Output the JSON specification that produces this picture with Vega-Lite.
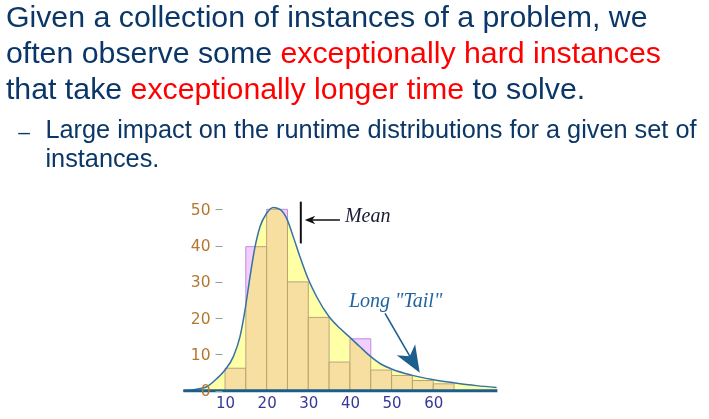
{
  "$schema": "https://vega.github.io/schema/vega-lite/v6.json",
  "width": 709,
  "height": 419,
  "padding": 0,
  "autosize": {"type": "fit", "contains": "padding"},
  "background": "white",
  "config": {"view": {"stroke": null}},
  "datasets": {
    "bins": [
      {"x": 10, "x2": 15, "y": 6.2},
      {"x": 15, "x2": 20, "y": 39.7},
      {"x": 20, "x2": 25, "y": 50},
      {"x": 25, "x2": 30, "y": 30},
      {"x": 30, "x2": 35, "y": 20.2},
      {"x": 35, "x2": 40, "y": 7.9},
      {"x": 40, "x2": 45, "y": 14.3},
      {"x": 45, "x2": 50, "y": 5.7},
      {"x": 50, "x2": 55, "y": 4.2},
      {"x": 55, "x2": 60, "y": 2.8},
      {"x": 60, "x2": 65, "y": 1.9}
    ],
    "curve": [
      {"x": 0, "y": 0}, {"x": 2, "y": 0.15}, {"x": 4, "y": 0.6}, {"x": 5.6, "y": 1.1},
      {"x": 8, "y": 3.3}, {"x": 10, "y": 5.7}, {"x": 12, "y": 9.4}, {"x": 13.6, "y": 14.9},
      {"x": 14.8, "y": 22.2}, {"x": 16, "y": 31.4}, {"x": 17.1, "y": 39}, {"x": 18.4, "y": 45.2},
      {"x": 20, "y": 48.9}, {"x": 21.6, "y": 50.5}, {"x": 23.2, "y": 50}, {"x": 24.8, "y": 47.5},
      {"x": 26.4, "y": 42.4}, {"x": 28, "y": 36.9}, {"x": 30, "y": 30.7}, {"x": 32, "y": 25.9},
      {"x": 35, "y": 20.4}, {"x": 37.6, "y": 17.2}, {"x": 40, "y": 14.7}, {"x": 42.4, "y": 12.1},
      {"x": 44.8, "y": 9.6}, {"x": 47.2, "y": 7.5}, {"x": 50, "y": 6.0}, {"x": 54.8, "y": 4.3},
      {"x": 59.8, "y": 3.1}, {"x": 64.9, "y": 2.2}, {"x": 70.4, "y": 1.4}, {"x": 75.2, "y": 0.9}
    ],
    "baseline": [{"x": 0, "x2": 75.4, "y": 0}],
    "mean": [{"x": 28.2, "y": 40.6, "y2": 52.1}],
    "meanArrow": [{"x": 29.8, "y": 47.05}, {"x": 37.6, "y": 47.05}],
    "meanHead": [{"x": 30.41, "y": 47.05}],
    "tailArrow": [{"x": 48.42, "y": 21.33}, {"x": 55.2, "y": 7.9}],
    "tailHead": [{"x": 55.1, "y": 8.1}],
    "notes": [
      {"x": 38.8, "y": 46.42, "text": "Mean", "tone": "mean"},
      {"x": 39.77, "y": 23.15, "text": "Long \"Tail\"", "tone": "tail"}
    ],
    "slide": [
      {"x": -42.6, "y": 100.33, "text": "Given a collection of instances of a problem, we", "tone": "plain", "level": 1},
      {"x": -42.6, "y": 90.24, "text": "often observe some", "tone": "plain", "level": 1},
      {"x": 23.3, "y": 90.24, "text": "exceptionally hard instances", "tone": "red", "level": 1},
      {"x": -42.6, "y": 80.32, "text": "that take", "tone": "plain", "level": 1},
      {"x": -12.68, "y": 80.32, "text": "exceptionally longer time", "tone": "red", "level": 1},
      {"x": 69.4, "y": 80.32, "text": "to solve.", "tone": "plain", "level": 1},
      {"x": -33.11, "y": 69.74, "text": "Large impact on the runtime distributions for a given set of", "tone": "plain", "level": 2},
      {"x": -33.11, "y": 61.74, "text": "instances.", "tone": "plain", "level": 2}
    ],
    "bullet": [{"x": -39.63, "y": 69.24, "text": "–"}]
  },
  "encoding": {
    "x": {
      "field": "x",
      "type": "quantitative",
      "scale": {"domain": [-44.022, 126.206], "nice": false, "zero": false},
      "axis": {
        "values": [10, 20, 30, 40, 50, 60],
        "title": null,
        "grid": false,
        "domain": false,
        "ticks": false,
        "tickSize": 0,
        "offset": -28.3,
        "labelPadding": 5,
        "labelColor": "#35389A",
        "labelFont": "DejaVu Sans",
        "labelFontSize": 15,
        "zindex": 1
      }
    },
    "y": {
      "field": "y",
      "type": "quantitative",
      "scale": {"domain": [-7.8, 107.69], "nice": false, "zero": false},
      "axis": {
        "values": [0, 10, 20, 30, 40, 50],
        "title": null,
        "grid": false,
        "domain": false,
        "tickSize": 7,
        "tickColor": "#9a9a9a",
        "offset": -222,
        "labelPadding": 5,
        "labelColor": "#B5772F",
        "labelFont": "DejaVu Sans",
        "labelFontSize": 15.5,
        "zindex": 1
      }
    }
  },
  "layer": [
    {
      "data": {"name": "bins"},
      "mark": {"type": "rect", "fill": "#F6DFA0", "stroke": "#B8A46E", "strokeWidth": 1},
      "encoding": {"x2": {"field": "x2"}, "y2": {"datum": 0}}
    },
    {
      "data": {"name": "curve"},
      "mark": {"type": "area", "interpolate": "monotone", "fill": "#FFFFA6", "blend": "darken"},
      "encoding": {"y2": {"datum": 0}}
    },
    {
      "data": {"name": "curve"},
      "mark": {"type": "area", "interpolate": "monotone", "fill": "#D264FF", "blend": "hue"},
      "encoding": {"y2": {"datum": 56}}
    },
    {
      "data": {"name": "curve"},
      "mark": {"type": "line", "interpolate": "monotone", "color": "#3572A5", "strokeWidth": 1.5},
      "encoding": {}
    },
    {
      "data": {"name": "baseline"},
      "mark": {"type": "rule", "color": "#1B5E8E", "strokeWidth": 3},
      "encoding": {"x2": {"field": "x2"}}
    },
    {
      "data": {"name": "mean"},
      "mark": {"type": "rule", "color": "#111111", "strokeWidth": 2},
      "encoding": {"y2": {"field": "y2"}}
    },
    {
      "data": {"name": "meanArrow"},
      "mark": {"type": "line", "color": "#111111", "strokeWidth": 1.3},
      "encoding": {}
    },
    {
      "data": {"name": "meanHead"},
      "mark": {"type": "point", "shape": "M-1,0L1,-0.8L0.4,0L1,0.8Z", "size": 110, "filled": true, "color": "#111111", "opacity": 1},
      "encoding": {}
    },
    {
      "data": {"name": "tailArrow"},
      "mark": {"type": "line", "color": "#1C5F8E", "strokeWidth": 1.6},
      "encoding": {}
    },
    {
      "data": {"name": "tailHead"},
      "mark": {"type": "point", "shape": "M1,0L-1,-0.8L-0.45,0L-1,0.8Z", "size": 720, "angle": 59, "filled": true, "color": "#1C5F8E", "opacity": 1},
      "encoding": {}
    },
    {
      "data": {"name": "notes"},
      "transform": [{"filter": "datum.tone == 'mean'"}],
      "mark": {"type": "text", "align": "left", "baseline": "alphabetic", "font": "Liberation Serif", "fontStyle": "italic", "fontSize": 20, "color": "#1A1A33"},
      "encoding": {"text": {"field": "text"}}
    },
    {
      "data": {"name": "notes"},
      "transform": [{"filter": "datum.tone == 'tail'"}],
      "mark": {"type": "text", "align": "left", "baseline": "alphabetic", "font": "Liberation Serif", "fontStyle": "italic", "fontSize": 20, "color": "#1F63A0"},
      "encoding": {"text": {"field": "text"}}
    },
    {
      "data": {"name": "slide"},
      "transform": [{"filter": "datum.level == 1 && datum.tone == 'plain'"}],
      "mark": {"type": "text", "align": "left", "baseline": "alphabetic", "font": "Liberation Sans", "fontSize": 30.3, "color": "#0B3768"},
      "encoding": {"text": {"field": "text"}}
    },
    {
      "data": {"name": "slide"},
      "transform": [{"filter": "datum.level == 1 && datum.tone == 'red'"}],
      "mark": {"type": "text", "align": "left", "baseline": "alphabetic", "font": "Liberation Sans", "fontSize": 30.3, "color": "#FF0000"},
      "encoding": {"text": {"field": "text"}}
    },
    {
      "data": {"name": "slide"},
      "transform": [{"filter": "datum.level == 2"}],
      "mark": {"type": "text", "align": "left", "baseline": "alphabetic", "font": "Liberation Sans", "fontSize": 25.3, "color": "#0B3768"},
      "encoding": {"text": {"field": "text"}}
    },
    {
      "data": {"name": "bullet"},
      "mark": {"type": "text", "align": "left", "baseline": "alphabetic", "font": "Liberation Sans", "fontSize": 21, "color": "#0B3768"},
      "encoding": {"text": {"field": "text"}}
    }
  ]
}
